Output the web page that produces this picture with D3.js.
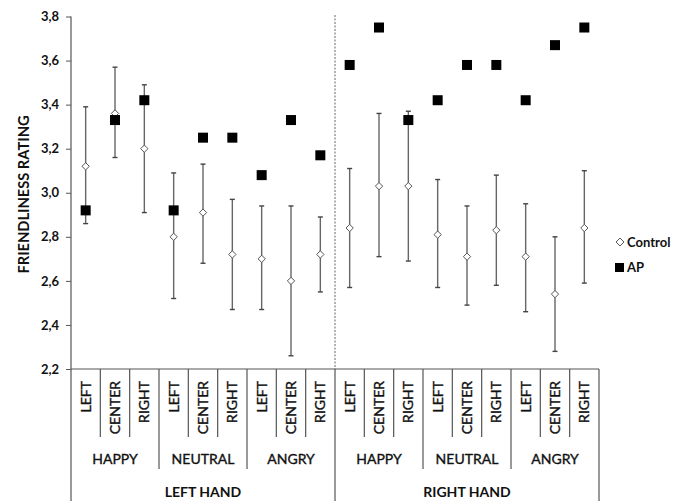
<!DOCTYPE html>
<html>
<head>
<meta charset="utf-8">
<script src="https://cdn.jsdelivr.net/npm/d3@7"></script>
<style>
  body { margin: 0; background: #fff; }
  text { font-family: Lato, "Open Sans", sans-serif; fill: #111; }
  .heavy { stroke: #111; stroke-width: 0.35px; }
</style>
</head>
<body>
<svg id="chart"></svg>
<script>
// chart data
var hands = ["LEFT HAND", "RIGHT HAND"];
var emotions = ["HAPPY", "NEUTRAL", "ANGRY"];
var positions = ["LEFT", "CENTER", "RIGHT"];

var controlMean = [3.12, 3.36, 3.20, 2.80, 2.91, 2.72, 2.70, 2.60, 2.72,
                   2.84, 3.03, 3.03, 2.81, 2.71, 2.83, 2.71, 2.54, 2.84];
var controlLow  = [2.86, 3.16, 2.91, 2.52, 2.68, 2.47, 2.47, 2.26, 2.55,
                   2.57, 2.71, 2.69, 2.57, 2.49, 2.58, 2.46, 2.28, 2.59];
var controlHigh = [3.39, 3.57, 3.49, 3.09, 3.13, 2.97, 2.94, 2.94, 2.89,
                   3.11, 3.36, 3.37, 3.06, 2.94, 3.08, 2.95, 2.80, 3.10];
var apMean      = [2.92, 3.33, 3.42, 2.92, 3.25, 3.25, 3.08, 3.33, 3.17,
                   3.58, 3.75, 3.33, 3.42, 3.58, 3.58, 3.42, 3.67, 3.75];
var yTicks = [2.2, 2.4, 2.6, 2.8, 3.0, 3.2, 3.4, 3.6, 3.8];

var width = 686, height = 501;
var mLeft = 71, mRight = 599, mTop = 16.5, mBottom = 369;

var svg = d3.select("#chart")
    .attr("width", width)
    .attr("height", height);

// build category keys from the three levels
var cats = [];
hands.forEach(function(h) {
    emotions.forEach(function(e) {
        positions.forEach(function(p) {
            cats.push({hand: h, emo: e, pos: p, key: h + "|" + e + "|" + p});
        });
    });
});

var x = d3.scaleBand()
    .domain(cats.map(d => d.key))
    .range([mLeft, mRight])
    .padding(0);

var y = d3.scaleLinear()
    .domain([2.2, 3.8])
    .range([mBottom, mTop]);

var lineCol = "#555";

// y axis
var yAxis = svg.append("g")
    .attr("transform", "translate(" + mLeft + ",0)")
    .call(d3.axisLeft(y)
        .tickValues(yTicks)
        .tickSize(5)
        .tickSizeOuter(0)
        .tickFormat(d => d3.format(".1f")(d).replace(".", ",")));
yAxis.select(".domain").remove();
yAxis.selectAll(".tick line").attr("stroke", lineCol);
yAxis.selectAll(".tick text")
    .attr("x", -12)
    .style("font-family", "Lato, sans-serif")
    .style("font-size", "13px")
    .style("font-weight", "bold")
    .attr("fill", "#222");

// left axis line runs through the label area
svg.append("line")
    .attr("x1", mLeft).attr("x2", mLeft)
    .attr("y1", mTop).attr("y2", height)
    .attr("stroke", lineCol).attr("stroke-width", 1.2);

// baseline
svg.append("line")
    .attr("x1", mLeft).attr("x2", mRight)
    .attr("y1", mBottom).attr("y2", mBottom)
    .attr("stroke", lineCol).attr("stroke-width", 1.2);

// separators under the axis
var bw = x.bandwidth();
d3.range(1, cats.length + 1).forEach(function(i) {
    var xx = mLeft + i * bw;
    var y2 = 437;
    if (i % 3 == 0) y2 = 469;
    if (i % 9 == 0) y2 = height;
    svg.append("line")
        .attr("x1", xx).attr("x2", xx)
        .attr("y1", mBottom).attr("y2", y2)
        .attr("stroke", lineCol).attr("stroke-width", 1.2);
});

// dashed divider between hands
svg.append("line")
    .attr("x1", mLeft + 9 * bw).attr("x2", mLeft + 9 * bw)
    .attr("y1", 15).attr("y2", mBottom)
    .attr("stroke", "#666")
    .attr("stroke-width", 1)
    .attr("stroke-dasharray", "2,1.5");

// category labels (rotated)
svg.selectAll(".catlab")
    .data(cats)
    .enter()
    .append("text")
    .attr("class", "catlab heavy")
    .attr("transform", d => "translate(" + (x(d.key) + bw / 2 + 5) + ",381) rotate(-90)")
    .attr("text-anchor", "end")
    .style("font-size", "14px")
    .text(d => d.pos);

// emotion labels
var groups = [];
hands.forEach(function(h) { emotions.forEach(function(e) { groups.push({hand: h, emo: e}); }); });
svg.selectAll(".emolab")
    .data(groups)
    .enter()
    .append("text")
    .attr("class", "emolab heavy")
    .attr("x", d => x(d.hand + "|" + d.emo + "|CENTER") + bw / 2)
    .attr("y", 464)
    .attr("text-anchor", "middle")
    .style("font-size", "14px")
    .text(d => d.emo);

// hand labels
svg.selectAll(".handlab")
    .data(hands)
    .enter()
    .append("text")
    .attr("x", d => x(d + "|NEUTRAL|CENTER") + bw / 2)
    .attr("y", 497)
    .attr("text-anchor", "middle")
    .style("font-size", "14px")
    .style("font-weight", "bold")
    .text(d => d);

// y title
svg.append("text")
    .attr("transform", "translate(29,194.5) rotate(-90)")
    .attr("text-anchor", "middle")
    .style("font-size", "14.7px")
    .style("font-weight", "bold")
    .text("FRIENDLINESS RATING");

// error bars
var eb = svg.append("g");
cats.forEach(function(c, i) {
    var cx = x(c.key) + bw / 2;
    eb.append("line")
        .attr("x1", cx).attr("x2", cx)
        .attr("y1", y(controlLow[i])).attr("y2", y(controlHigh[i]))
        .attr("stroke", "#666").attr("stroke-width", 1.4);
    [controlLow[i], controlHigh[i]].forEach(function(v) {
        eb.append("line")
            .attr("x1", cx - 2.5).attr("x2", cx + 2.5)
            .attr("y1", y(v)).attr("y2", y(v))
            .attr("stroke", "#444").attr("stroke-width", 1.4);
    });
});

// control diamonds
var diamond = d3.symbol().type(d3.symbolDiamond2).size(34);
svg.append("g").selectAll("path")
    .data(controlMean)
    .enter()
    .append("path")
    .attr("d", diamond)
    .attr("transform", (d, i) => "translate(" + (x(cats[i].key) + bw / 2) + "," + y(d) + ")")
    .attr("fill", "#fff")
    .attr("stroke", "#555")
    .attr("stroke-width", 1);

// AP squares
svg.append("g").selectAll("rect")
    .data(apMean)
    .enter()
    .append("rect")
    .attr("x", (d, i) => x(cats[i].key) + bw / 2 - 5)
    .attr("y", d => y(d) - 5)
    .attr("width", 10)
    .attr("height", 10)
    .attr("fill", "#000");

// legend
var lg = svg.append("g");
lg.append("path")
    .attr("d", d3.symbol().type(d3.symbolDiamond2).size(40))
    .attr("transform", "translate(620,242)")
    .attr("fill", "#fff").attr("stroke", "#555").attr("stroke-width", 1);
lg.append("text")
    .attr("x", 627).attr("y", 247)
    .style("font-size", "13px").style("font-weight", "bold")
    .text("Control");
lg.append("rect")
    .attr("x", 615).attr("y", 263).attr("width", 9).attr("height", 9)
    .attr("fill", "#000");
lg.append("text")
    .attr("x", 627).attr("y", 272)
    .style("font-size", "13px").style("font-weight", "bold")
    .text("AP");
</script>
</body>
</html>
